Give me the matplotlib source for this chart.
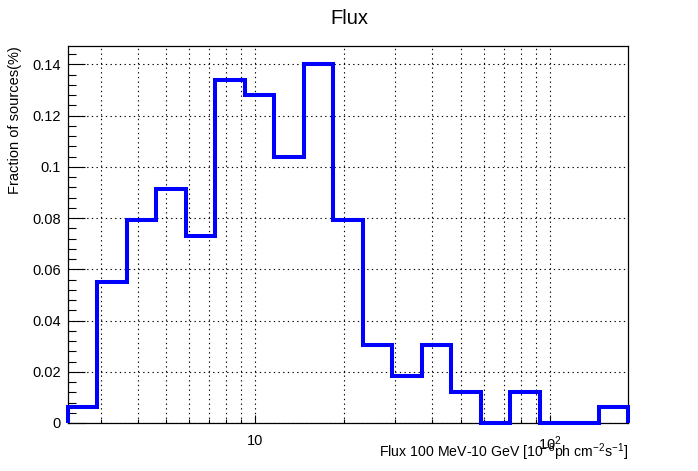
import numpy as np
import matplotlib
matplotlib.use("Agg")
import matplotlib.pyplot as plt
from matplotlib.ticker import FixedLocator, FixedFormatter, NullFormatter

plt.rcParams['font.family'] = ['Liberation Sans', 'DejaVu Sans']
plt.rcParams['mathtext.default'] = 'regular'

# histogram: 19 log-equal bins
log_lo = 0.366
log_hi = 2.266
fractions = [0.0061, 0.0549, 0.0793, 0.0915, 0.0732, 0.1341, 0.1280, 0.1037,
             0.1402, 0.0793, 0.0305, 0.0183, 0.0305, 0.0122, 0.0, 0.0122,
             0.0, 0.0, 0.0061]
edges = np.logspace(log_lo, log_hi, len(fractions) + 1)

x_major = [10, 100]
x_major_labels = ["10", "$10^{2}$"]
x_minor = [3, 4, 5, 6, 7, 8, 9, 20, 30, 40, 50, 60, 70, 80, 90]
y_major = [0, 0.02, 0.04, 0.06, 0.08, 0.1, 0.12, 0.14]
y_major_labels = ["0", "0.02", "0.04", "0.06", "0.08", "0.1", "0.12", "0.14"]

W, H = 698, 471
fig = plt.figure(figsize=(W / 100, H / 100), dpi=100)
ax = fig.add_axes([68 / W, 1 - 423 / H, 560 / W, 377 / H])

ax.stairs(fractions, edges, baseline=0, color=(0, 0, 1), lw=2.9,
          clip_on=False, zorder=3)

ax.set_xscale('log')
ax.set_xlim(edges[0], edges[-1])
ax.set_ylim(0, max(fractions) * 1.05)

ax.xaxis.set_major_locator(FixedLocator(x_major))
ax.xaxis.set_major_formatter(FixedFormatter(x_major_labels))
ax.xaxis.set_minor_locator(FixedLocator(x_minor))
ax.xaxis.set_minor_formatter(NullFormatter())
ax.yaxis.set_major_locator(FixedLocator(y_major))
ax.yaxis.set_major_formatter(FixedFormatter(y_major_labels))
ax.yaxis.set_minor_locator(FixedLocator(np.arange(0.004, 0.147, 0.004)))

ax.tick_params(axis='both', which='both', direction='in', colors='black',
               labelsize=10.5, width=0.8)
ax.tick_params(axis='y', which='major', length=12, pad=5)
ax.tick_params(axis='y', which='minor', length=6)
ax.tick_params(axis='x', which='major', length=6, pad=8)
ax.tick_params(axis='x', which='minor', length=3)

grid_style = dict(color='black', lw=0.8, ls=(0, (1.2, 3)))
ax.grid(True, which='both', axis='x', **grid_style)
ax.grid(True, which='major', axis='y', **grid_style)
ax.set_axisbelow(True)

for s in ax.spines.values():
    s.set_linewidth(0.9)

fig.text(349 / W, 1 - 18 / H, "Flux", ha='center', va='center', fontsize=14.5)
fig.text(628 / W, 1 - 452 / H,
         "Flux 100 MeV-10 GeV [10$^{-8}$ph cm$^{-2}$s$^{-1}$]",
         ha='right', va='center', fontsize=10.2)
fig.text(15 / W, 1 - 46 / H, "Fraction of sources(%)", rotation=90,
         ha='center', va='top', fontsize=10.5)

fig.savefig("out.png", dpi=100)
